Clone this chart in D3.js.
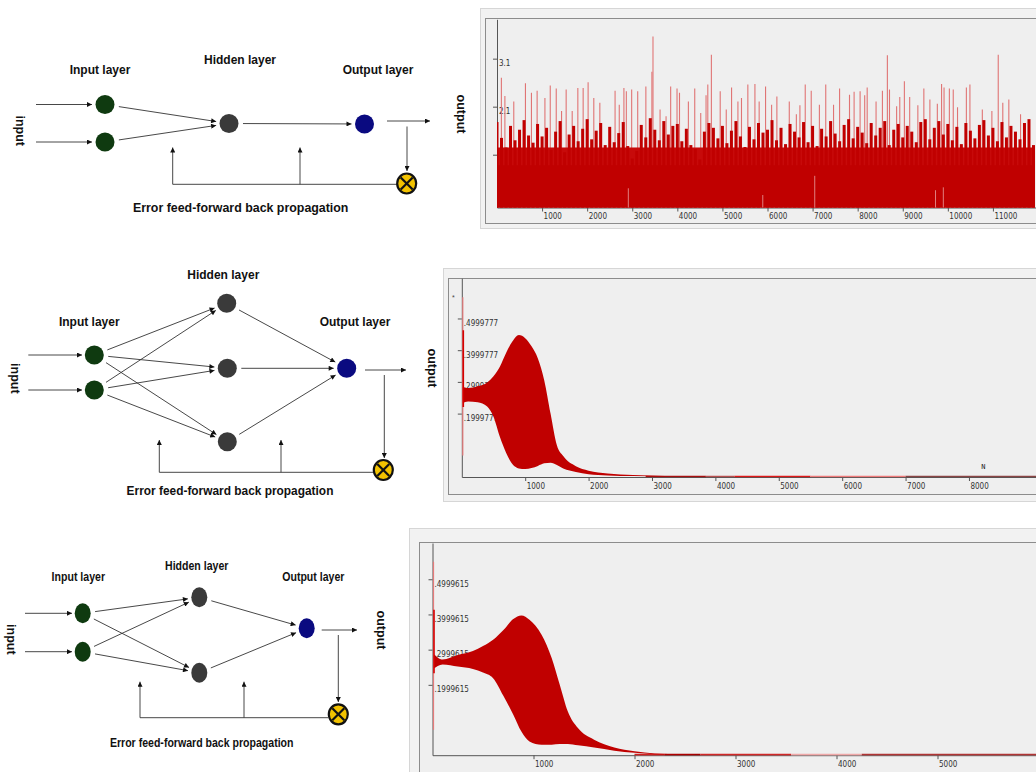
<!DOCTYPE html>
<html>
<head>
<meta charset="utf-8">
<script src="https://cdn.jsdelivr.net/npm/d3@7"></script>
<style>
  body { margin: 0; background: #fff; }
  svg { display: block; font-family: "Liberation Sans", Arial, sans-serif; }
  .tick text { font-family: "Liberation Sans Narrow", "DejaVu Sans Condensed", sans-serif; font-size: 8px; fill: #333; }
</style>
</head>
<body>
<div id="fig"></div>
<script>
// ---------- data ----------
const layerNames = ["Input layer", "Hidden layer", "Output layer"];
const errorCaption = "Error feed-forward back propagation";
const hiddenCounts = [1, 3, 2];

// panel 1: noisy output, one dark bar per 100 samples
const p1XTicks = [1000, 2000, 3000, 4000, 5000, 6000, 7000, 8000, 9000, 10000, 11000];
const p1YTicks = [1.1, 2.1, 3.1];
const p1Step = 100;
const p1Core = 0.88;
const p1Wash = 1.25;
const p1Dark = [
  1.78, 1.45, 1.25, 1.70, 1.40, 1.62, 1.82, 1.50, 1.35, 1.74,
  1.48, 1.66, 1.20, 1.58, 1.80, 1.15, 1.52, 1.70, 1.38, 1.64,
  1.84, 1.42, 1.60, 1.76, 1.30, 1.68, 1.36, 1.55, 1.78, 1.28,
  1.02, 1.18, 1.72, 1.46, 1.86, 1.62, 1.40, 1.80, 1.52, 1.70,
  1.74, 1.38, 1.64, 1.30, 1.22, 1.00, 1.58, 1.76, 1.66, 1.44,
  1.70, 1.34, 1.60, 1.80, 1.48, 1.26, 1.68, 1.42, 1.76, 1.56,
  1.62, 1.82, 1.40, 1.66, 1.32, 1.74, 1.58, 1.46, 1.78, 1.36,
  1.70, 1.28, 1.64, 1.48, 1.80, 1.54, 1.38, 1.72, 1.84, 1.44,
  1.68, 1.56, 1.34, 1.76, 1.50, 1.66, 1.80, 1.30, 1.62, 1.74,
  1.46, 1.70, 1.58, 1.36, 1.78, 1.84, 1.42, 1.66, 1.80, 1.52,
  1.74, 1.40, 1.68, 1.32, 1.76, 1.60, 1.44, 1.72, 1.82, 1.50,
  1.66, 1.38, 1.78, 1.46, 1.70, 1.58, 1.42, 1.76, 1.84, 1.30
];
const p1SpikeX = [97, 175, 372, 631, 764, 890, 1063, 1181, 1314, 1432, 1534, 1668, 1793, 1911, 2021, 2147, 2281,
  2619, 2712, 2815, 2869, 2987, 3121, 3302, 3436, 3460, 3617, 3750, 3852, 3993, 4048, 4245, 4386, 4519, 4637,
  4676, 4755, 4951, 5085, 5203, 5344, 5423, 5564, 5721, 5815, 5957, 6091, 6208, 6483, 6640, 6719, 6837, 6970,
  7151, 7292, 7465, 7599, 7819, 7921, 8054, 8156, 8211, 8408, 8549, 8659, 8706, 8864, 8934, 9036, 9154, 9335,
  9468, 9602, 9767, 9861, 9916, 10034, 10120, 10215, 10411, 10490, 10765, 10977, 11118, 11219, 11353, 11613, 11809];
const p1SpikeY = [2.70, 2.32, 2.21, 2.59, 2.39, 2.43, 2.28, 2.54, 2.48, 2.01, 2.46, 2.01, 2.49, 2.49, 2.61, 2.28, 2.18,
  2.43, 2.14, 2.49, 2.42, 2.46, 2.42, 2.52, 2.83, 3.56, 2.04, 1.90, 2.52, 2.48, 2.39, 2.21, 2.48, 1.97, 2.34,
  2.56, 3.18, 2.42, 2.04, 2.50, 2.21, 2.28, 2.56, 2.57, 2.21, 2.52, 2.14, 2.31, 2.21, 1.94, 2.13, 2.56, 2.43,
  2.14, 2.56, 2.14, 2.48, 2.35, 2.41, 2.42, 2.34, 2.50, 2.21, 2.43, 3.17, 2.46, 2.11, 2.30, 2.63, 2.30, 2.13,
  2.48, 2.25, 2.16, 2.57, 2.50, 2.48, 2.46, 2.09, 2.50, 2.56, 2.04, 2.01, 3.18, 2.18, 2.25, 1.94, 1.77];
const p1GapX = [2913, 5895, 7048, 9727, 9900];
const p1GapY = [0.40, 0.26, 0.66, 0.36, 0.42];

// panel 2: network with 3 hidden nodes
const p2XTicks = [1000, 2000, 3000, 4000, 5000, 6000, 7000, 8000];
const p2YTicks = [0.1999777, 0.2999777, 0.3999777, 0.4999777];
const p2X =     [5, 100, 250, 400, 500, 600, 700, 800, 900, 1000, 1100, 1200, 1300, 1400, 1500, 1600, 1800, 2000, 2300, 2700, 3200];
const p2Upper = [0.285, 0.281, 0.286, 0.298, 0.318, 0.348, 0.392, 0.428, 0.448, 0.438, 0.412, 0.374, 0.305, 0.200, 0.100, 0.066, 0.034, 0.020, 0.011, 0.006, 0.003];
const p2Lower = [0.232, 0.238, 0.236, 0.222, 0.190, 0.127, 0.076, 0.040, 0.027, 0.025, 0.028, 0.035, 0.043, 0.045, 0.038, 0.027, 0.016, 0.009, 0.005, 0.003, 0.002];
const p2StartLight = [0.068, 0.567];
const p2StartDark = [0.221, 0.463];
const p2TailStops = [2900, 3850, 4300, 5500, 7000, 9100];
const p2Mark = { x: 8226, y: 0.036, text: "N" };

// panel 3: network with 2 hidden nodes
const p3XTicks = [1000, 2000, 3000, 4000, 5000];
const p3YTicks = [0.1999615, 0.2999615, 0.3999615, 0.4999615];
const p3X =     [5, 100, 250, 400, 500, 600, 700, 800, 880, 960, 1080, 1180, 1260, 1340, 1440, 1600, 1800, 2000, 2200, 2600];
const p3Upper = [0.290, 0.272, 0.285, 0.296, 0.310, 0.328, 0.355, 0.387, 0.397, 0.385, 0.342, 0.276, 0.200, 0.124, 0.077, 0.044, 0.022, 0.011, 0.005, 0.002];
const p3Lower = [0.245, 0.258, 0.252, 0.245, 0.235, 0.219, 0.170, 0.115, 0.067, 0.039, 0.030, 0.030, 0.032, 0.032, 0.028, 0.022, 0.013, 0.007, 0.003, 0.001];
const p3StartLight = [0.072, 0.55];
const p3StartDark = [0.233, 0.413];
const p3TailStops = [2000, 2300, 2650, 3550, 4250, 6000];

// ---------- layout ----------
const nets = [
  { inNodes: [[105, 104.5], [105, 142]], hidNodes: [[229, 123.5]], outNode: [364.5, 124], rx: 9.5, ry: 9.5,
    inArrow: [36, 92], outArrow: [387, 430, 121], down: [407, 126.5, 171], err: [406.7, 183.5],
    fbY: 184.3, fbX: [397, 172.7], ups: [172.7, 300], upTop: 147.5,
    labels: [[100, 74], [240, 63.5], [378, 73.5]], caption: [240.7, 211.5], capSize: 12.4,
    inLabel: [20, 130.7], outLabel: [461, 114], sx: 1 },
  { inNodes: [[94.3, 355], [94.3, 390]], hidNodes: [[226.7, 303.3], [227.3, 368.3], [227.3, 441.7]], outNode: [346.7, 368.3], rx: 9.5, ry: 9.5,
    inArrow: [28.3, 82], outArrow: [365, 406, 370], down: [384.3, 375, 458], err: [383.3, 470],
    fbY: 472.3, fbX: [373, 159.3], ups: [159.3, 281], upTop: 440,
    labels: [[89.3, 326], [223.3, 279], [355, 326]], caption: [230, 495], capSize: 11.9,
    inLabel: [15, 378.3], outLabel: [432, 368], sx: 1 },
  { inNodes: [[82.7, 613.3], [82.7, 651.7]], hidNodes: [[199.3, 597.3], [199.3, 672.7]], outNode: [306.7, 628.3], rx: 8, ry: 10,
    inArrow: [25, 72], outArrow: [321.7, 357, 630], down: [338.3, 635, 702], err: [338.3, 714.3],
    fbY: 717.7, fbX: [328, 140], ups: [140, 244], upTop: 681.7,
    labels: [[78.3, 581], [196.7, 570], [313.3, 581]], caption: [201.7, 746.5], capSize: 12,
    inLabel: [11.7, 639.3], outLabel: [381.7, 630], sx: 0.88 }
];

const red = "#c00000";

const svg = d3.select("#fig").append("svg")
    .attr("width", 1036)
    .attr("height", 772);

const defs = svg.append("defs");
defs.append("marker")
    .attr("id", "arr")
    .attr("viewBox", "0 0 10 10")
    .attr("refX", 10).attr("refY", 5)
    .attr("markerWidth", 6).attr("markerHeight", 5)
    .attr("markerUnits", "userSpaceOnUse")
    .attr("orient", "auto")
    .append("path")
    .attr("d", "M0,0L10,5L0,10z")
    .attr("fill", "#111");

function label(g, pos, txt, opts) {
    const t = g.append("g").attr("transform", `translate(${pos[0]},${pos[1]}) scale(${opts.sx || 1},1) rotate(${opts.rot || 0})`);
    t.append("text")
        .attr("text-anchor", "middle")
        .attr("dy", opts.dy || 0)
        .style("font-size", (opts.size || 12) + "px")
        .style("font-weight", "bold")
        .style("fill", "#111")
        .text(txt);
}

function arrow(g, x1, y1, x2, y2) {
    g.append("line")
        .attr("x1", x1).attr("y1", y1).attr("x2", x2).attr("y2", y2)
        .attr("stroke", "#333").attr("stroke-width", 0.9)
        .attr("marker-end", "url(#arr)");
}

function drawNet(L, nHidden) {
    const g = svg.append("g");
    const hid = L.hidNodes.slice(0, nHidden);

    // connections, trimmed to node borders
    function edge(a, b) {
        const dx = b[0] - a[0], dy = b[1] - a[1];
        const len = Math.hypot(dx, dy), ux = dx / len, uy = dy / len;
        arrow(g, a[0] + ux * (L.rx + 4.5), a[1] + uy * (L.rx + 4.5),
                 b[0] - ux * (L.rx + 3.5), b[1] - uy * (L.rx + 3.5));
    }
    L.inNodes.forEach(a => hid.forEach(b => edge(a, b)));
    hid.forEach(a => edge(a, L.outNode));

    L.inNodes.forEach(p => arrow(g, L.inArrow[0], p[1], L.inArrow[1], p[1]));
    arrow(g, L.outArrow[0], L.outArrow[2], L.outArrow[1], L.outArrow[2]);
    arrow(g, L.down[0], L.down[1], L.down[0], L.down[2]);

    // feedback path
    g.append("line")
        .attr("x1", L.fbX[0]).attr("x2", L.fbX[1])
        .attr("y1", L.fbY).attr("y2", L.fbY)
        .attr("stroke", "#333").attr("stroke-width", 0.9);
    L.ups.forEach(ux => arrow(g, ux, L.fbY, ux, L.upTop));

    const node = (p, fill) => g.append("ellipse")
        .attr("cx", p[0]).attr("cy", p[1])
        .attr("rx", L.rx).attr("ry", L.ry)
        .attr("fill", fill);
    L.inNodes.forEach(p => node(p, "#0f3a10"));
    hid.forEach(p => node(p, "#3a3a3a"));
    node(L.outNode, "#0a0a80");

    // error junction
    const e = g.append("g").attr("transform", `translate(${L.err[0]},${L.err[1]})`);
    e.append("ellipse").attr("rx", 9.5).attr("ry", 10)
        .attr("fill", "#f2c200").attr("stroke", "#111").attr("stroke-width", 2.2);
    [[-6, -6, 6, 6], [-6, 6, 6, -6]].forEach(c => e.append("line")
        .attr("x1", c[0]).attr("y1", c[1]).attr("x2", c[2]).attr("y2", c[3])
        .attr("stroke", "#111").attr("stroke-width", 2.2));

    layerNames.forEach((n, i) => label(g, L.labels[i], n, { sx: L.sx }));
    label(g, L.caption, errorCaption, { sx: L.sx, size: L.capSize });
    label(g, L.inLabel, "input", { rot: 90, dy: 4.5, size: 12.5 });
    label(g, L.outLabel, "output", { rot: 90, dy: 4.5, size: 12.5 });
}

nets.forEach((L, i) => drawNet(L, hiddenCounts[i]));

// ---------- chart panels ----------
function drawPanel(P) {
    const g = svg.append("g");
    g.append("rect")
        .attr("x", P.outer[0]).attr("y", P.outer[1])
        .attr("width", P.outer[2]).attr("height", P.outer[3])
        .attr("fill", "#f2f2f2").attr("stroke", "#d6d6d6");
    g.append("rect")
        .attr("x", P.inner[0]).attr("y", P.inner[1])
        .attr("width", P.inner[2]).attr("height", P.inner[3])
        .attr("fill", "#efefef").attr("stroke", "#8c8c8c");

    const x = d3.scaleLinear().domain(P.xDomain).range(P.xRange);
    const y = d3.scaleLinear().domain(P.yDomain).range(P.yRange);

    const xa = g.append("g")
        .attr("transform", `translate(0,${P.yRange[0]})`)
        .call(d3.axisBottom(x).tickValues(P.xTicks).tickSize(4).tickSizeOuter(0).tickPadding(2).tickFormat(d3.format("d")));
    xa.selectAll("text").attr("text-anchor", "start").attr("x", 1);

    const ya = g.append("g")
        .attr("transform", `translate(${P.xRange[0]},0)`)
        .call(d3.axisLeft(y).tickValues(P.yTicks).tickSize(4).tickSizeOuter(0).tickFormat(P.yFormat));
    ya.selectAll("text").attr("text-anchor", "start").attr("x", 2).attr("y", 4.5);

    [xa, ya].forEach(a => {
        a.select(".domain").attr("stroke", "#555");
        a.selectAll(".tick line").attr("stroke", "#555");
    });

    const id = "clip" + P.id;
    defs.append("clipPath").attr("id", id).append("rect")
        .attr("x", P.xRange[0]).attr("y", P.yRange[1])
        .attr("width", 1036 - P.xRange[0]).attr("height", P.yRange[0] - P.yRange[1] + 0.5);
    const plot = g.append("g").attr("clip-path", `url(#${id})`);
    return { g, plot, x, y };
}

// panel 1
{
    const { plot, x, y } = drawPanel({
        id: 1, outer: [480.5, 8.5, 560, 220], inner: [485.5, 18.5, 560, 205],
        xDomain: [0, 12000], xRange: [497, 1038], yDomain: [0, 3.92], yRange: [207.5, 19.3],
        xTicks: p1XTicks, yTicks: p1YTicks, yFormat: d3.format(".1f")
    });
    const xEnd = x(p1Step * (p1Dark.length - 1)) + 1.4;
    plot.selectAll(".spike").data(p1SpikeX).join("line")
        .attr("x1", d => x(d)).attr("x2", d => x(d))
        .attr("y1", y(0)).attr("y2", (d, i) => y(p1SpikeY[i]))
        .attr("stroke", "#e07474").attr("stroke-width", 1.1);
    plot.append("rect")
        .attr("x", x(0)).attr("width", xEnd - x(0))
        .attr("y", y(p1Wash)).attr("height", y(0) - y(p1Wash))
        .attr("fill", "#c70a0a");
    plot.selectAll(".dark").data(p1Dark).join("rect")
        .attr("x", (d, i) => x(i * p1Step) - 1.5)
        .attr("width", 3)
        .attr("y", d => y(d))
        .attr("height", d => y(0) - y(d))
        .attr("fill", red);
    plot.append("rect")
        .attr("x", x(0)).attr("width", xEnd - x(0))
        .attr("y", y(p1Core)).attr("height", y(0) - y(p1Core))
        .attr("fill", red);
    plot.selectAll(".gap").data(p1GapX).join("line")
        .attr("x1", d => x(d)).attr("x2", d => x(d))
        .attr("y1", y(0)).attr("y2", (d, i) => y(p1GapY[i]))
        .attr("stroke", "#e8a0a0").attr("stroke-width", 0.8);
}

function bandPanel(P, X, up, lo, startLight, startDark, tail, tailColors) {
    const { plot, x, y } = drawPanel(P);
    const pts = X.map((v, i) => ({ x: v, hi: up[i], lo: lo[i] }));
    const tailY = 0.0015;
    plot.selectAll(".tail").data(tail.slice(0, -1)).join("line")
        .attr("x1", d => x(d)).attr("x2", (d, i) => x(tail[i + 1]))
        .attr("y1", y(tailY)).attr("y2", y(tailY))
        .attr("stroke", (d, i) => tailColors[i]).attr("stroke-width", 1.6);
    plot.append("path")
        .datum(pts)
        .attr("d", d3.area().x(d => x(d.x)).y0(d => y(d.lo)).y1(d => y(d.hi)).curve(d3.curveMonotoneX))
        .attr("fill", red);
    plot.append("line")
        .attr("x1", x(0) + 1).attr("x2", x(0) + 1)
        .attr("y1", y(startLight[0])).attr("y2", y(startLight[1]))
        .attr("stroke", "#e57a7a").attr("stroke-width", 1.2);
    plot.append("line")
        .attr("x1", x(0) + 1.5).attr("x2", x(0) + 1.5)
        .attr("y1", y(startDark[0])).attr("y2", y(startDark[1]))
        .attr("stroke", "#d40000").attr("stroke-width", 1.6);
    return { plot, x, y };
}

const stripZero = d => String(d).replace(/^0/, "");

{
    const { plot, x, y } = bandPanel({
        id: 2, outer: [443.5, 268.5, 600, 233], inner: [448.5, 278.5, 600, 216],
        xDomain: [0, 9100], xRange: [461.8, 1038.7], yDomain: [0, 0.627], yRange: [477, 278.2],
        xTicks: p2XTicks, yTicks: p2YTicks, yFormat: stripZero
    }, p2X, p2Upper, p2Lower, p2StartLight, p2StartDark, p2TailStops,
       ["#a81010", "#b85050", "#e01818", "#ef7a7a", "#8a4545"]);
    svg.append("text")
        .attr("x", x(p2Mark.x)).attr("y", y(p2Mark.y) + 3)
        .attr("text-anchor", "middle")
        .style("font-family", "DejaVu Sans Mono, monospace").style("font-size", "7px").style("fill", "#222")
        .text(p2Mark.text);
    svg.append("text")
        .attr("x", 453.3).attr("y", 300)
        .attr("text-anchor", "middle")
        .style("font-size", "7px").style("fill", "#444")
        .text("*");
}

bandPanel({
    id: 3, outer: [409.5, 528.5, 630, 250], inner: [419.5, 542.5, 620, 240],
    xDomain: [0, 6000], xRange: [432.5, 1038.5], yDomain: [0, 0.603], yRange: [755.2, 543],
    xTicks: p3XTicks, yTicks: p3YTicks, yFormat: stripZero
}, p3X, p3Upper, p3Lower, p3StartLight, p3StartDark, p3TailStops,
   ["#d02020", "#a00000", "#d02828", "#f0a8a8", "#b03535"]);
</script>
</body>
</html>
